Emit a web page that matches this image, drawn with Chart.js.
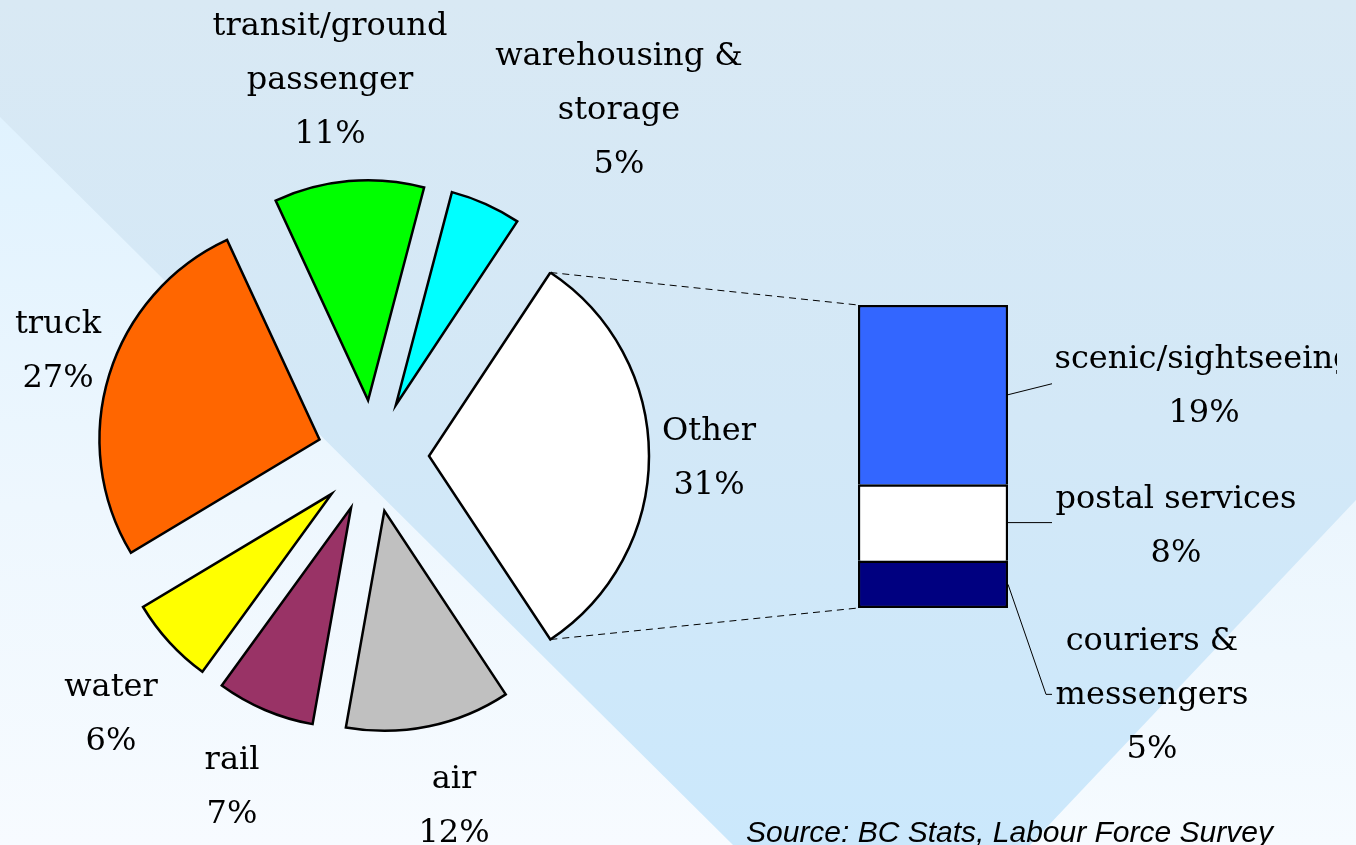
<!DOCTYPE html>
<html>
<head>
<meta charset="utf-8">
<script src="https://cdn.jsdelivr.net/npm/chart.js@4.4.1/dist/chart.umd.min.js"></script>
<style>
html,body{margin:0;padding:0;width:1356px;height:845px;overflow:hidden;}
body{position:relative;background:linear-gradient(to bottom,#d9e9f4 0%,#d3e8f7 50%,#cbe8fc 100%);}
.bg{position:absolute;left:0;top:0;width:1356px;height:845px;}
#bgL{clip-path:polygon(0 117px,733px 845px,0 845px);background:linear-gradient(to bottom,#dcecf6 0%,#e0f2fe 14%,#eef7fe 60%,#f7fbff 100%);}
#bgR{clip-path:polygon(1356px 500px,1356px 845px,1030px 845px);background:linear-gradient(to bottom,#eaf5fd 55%,#f6fbff 100%);}
canvas{position:absolute;left:0;top:0;}
</style>
</head>
<body>
<div class="bg" id="bgL"></div>
<div class="bg" id="bgR"></div>
<canvas id="pie" width="1356" height="845"></canvas>
<canvas id="bar" width="1356" height="845"></canvas>
<script>
// ---- data ----
const pieCategories = ['Other', 'air', 'rail', 'water', 'truck', 'transit/ground passenger', 'warehousing & storage'];
const pieLabelLines = [['Other'], ['air'], ['rail'], ['water'], ['truck'], ['transit/ground', 'passenger'], ['warehousing &', 'storage']];
const pieValues = [31.4, 12.1, 7.2, 6.4, 26.7, 11.0, 5.2];
const pieColors = ['#FFFFFF', '#C0C0C0', '#993366', '#FFFF00', '#FF6600', '#00FF00', '#00FFFF'];

// bar of pie (bottom to top)
const subCategories = ['couriers & messengers', 'postal services', 'scenic/sightseeing'];
const subLabelLines = [['couriers &', 'messengers'], ['postal services'], ['scenic/sightseeing']];
const subValues = [4.9, 7.9, 18.6];
const subColors = ['#000080', '#FFFFFF', '#3366FF'];

const sourceText = 'Source: BC Stats, Labour Force Survey';

// ---- layout ----
const EXPLODE = 56;
const LINE_H = 54;
const LABEL_FONT = '32px "DejaVu Serif", "Liberation Serif", serif';
// label offsets from pie centre: [dx of text centre, dy of first baseline]
const pieLabelOffset = [[336, -16], [81, 332], [-141, 313], [-262, 240], [-315, -123], [-43, -421], [246, -391]];
// bar labels: offsets from (bar right edge, segment middle)
const subLabelOffset = [[144, 66], [168, -15], [196, -27]];
const subLeader = [[[38, 110], [44, 110]], [[44, 0]], [[44, -11]]];

const total = pieValues.reduce((a, b) => a + b, 0);
const otherTotal = subValues.reduce((a, b) => a + b, 0);
const pct = v => Math.round(v / total * 100) + '%';

function shiftOf(arc) {
  const mid = (arc.startAngle + arc.endAngle) / 2;
  return {dx: Math.cos(mid) * EXPLODE, dy: Math.sin(mid) * EXPLODE};
}

const explodePlugin = {
  id: 'explode',
  beforeDatasetDraw(chart, args) {
    const ctx = chart.ctx;
    args.meta.data.forEach(arc => {
      const s = shiftOf(arc);
      ctx.save();
      ctx.translate(s.dx, s.dy);
      arc.draw(ctx);
      ctx.restore();
    });
    return false;
  },
  afterDraw(chart) {
    const ctx = chart.ctx;
    const meta = chart.getDatasetMeta(0);
    ctx.save();
    ctx.font = LABEL_FONT;
    ctx.fillStyle = '#000';
    ctx.textAlign = 'center';
    ctx.textBaseline = 'alphabetic';
    meta.data.forEach((arc, i) => {
      const lines = pieLabelLines[i].concat([pct(pieValues[i])]);
      const [dx, dy] = pieLabelOffset[i];
      lines.forEach((t, k) => ctx.fillText(t, arc.x + dx, arc.y + dy + k * LINE_H));
    });
    ctx.restore();
  }
};

const pieChart = new Chart(document.getElementById('pie'), {
  type: 'pie',
  data: {
    labels: pieCategories,
    datasets: [{
      data: pieValues,
      backgroundColor: pieColors,
      borderColor: '#000000',
      borderWidth: 2.5,
      borderJoinStyle: 'miter',
      radius: 220,
      rotation: 90 - (pieValues[0] / total) * 180
    }]
  },
  options: {
    responsive: false,
    animation: false,
    events: [],
    layout: {padding: {left: 153, right: 763, top: 236, bottom: 169}},
    plugins: {legend: {display: false}, tooltip: {enabled: false}, title: {display: false}}
  },
  plugins: [explodePlugin]
});

const barPlugin = {
  id: 'barDecor',
  afterDraw(chart) {
    const ctx = chart.ctx;
    const els = subValues.map((v, i) => chart.getDatasetMeta(i).data[0]);
    const top = els[els.length - 1];
    const bottom = els[0];
    const left = top.x - top.width / 2;
    const right = top.x + top.width / 2;

    // dashed connectors from the "Other" slice
    const arc = pieChart.getDatasetMeta(0).data[0];
    const s = shiftOf(arc);
    const R = arc.outerRadius;
    const p1 = [arc.x + s.dx + Math.cos(arc.startAngle) * R, arc.y + s.dy + Math.sin(arc.startAngle) * R];
    const p2 = [arc.x + s.dx + Math.cos(arc.endAngle) * R, arc.y + s.dy + Math.sin(arc.endAngle) * R];
    ctx.save();
    ctx.strokeStyle = '#000';
    ctx.lineWidth = 1;
    ctx.setLineDash([7, 5]);
    ctx.beginPath();
    ctx.moveTo(p1[0], p1[1]); ctx.lineTo(left, top.y);
    ctx.moveTo(p2[0], p2[1]); ctx.lineTo(left, bottom.base);
    ctx.stroke();
    ctx.setLineDash([]);

    // leader lines and labels
    ctx.font = LABEL_FONT;
    ctx.fillStyle = '#000';
    ctx.textAlign = 'center';
    ctx.textBaseline = 'alphabetic';
    els.forEach((el, i) => {
      const mid = (el.y + el.base) / 2;
      ctx.beginPath();
      ctx.moveTo(right, mid);
      subLeader[i].forEach(p => ctx.lineTo(right + p[0], mid + p[1]));
      ctx.stroke();
      const lines = subLabelLines[i].concat([pct(subValues[i])]);
      const [dx, dy] = subLabelOffset[i];
      ctx.save();
      ctx.beginPath();
      ctx.rect(0, 0, 1337, 845);
      ctx.clip();
      lines.forEach((t, k) => ctx.fillText(t, right + dx, mid + dy + k * LINE_H));
      ctx.restore();
    });

    // source note
    ctx.font = 'italic 30px "Liberation Sans", Arial, sans-serif';
    ctx.textAlign = 'left';
    ctx.fillText(sourceText, 746, 842);
    ctx.restore();
  }
};

const barChart = new Chart(document.getElementById('bar'), {
  type: 'bar',
  data: {
    labels: ['Other'],
    datasets: subValues.map((v, i) => ({
      label: subCategories[i],
      data: [v],
      backgroundColor: subColors[i],
      borderColor: '#000000',
      borderWidth: 2.5,
      borderSkipped: i === 0 ? false : 'start',
      barPercentage: 1,
      categoryPercentage: 1
    }))
  },
  options: {
    responsive: false,
    animation: false,
    events: [],
    layout: {padding: {left: 858, right: 348, top: 305, bottom: 237}},
    plugins: {legend: {display: false}, tooltip: {enabled: false}, title: {display: false}},
    scales: {
      x: {display: false, stacked: true},
      y: {display: false, stacked: true, min: 0, max: otherTotal}
    }
  },
  plugins: [barPlugin]
});
</script>
</body>
</html>
